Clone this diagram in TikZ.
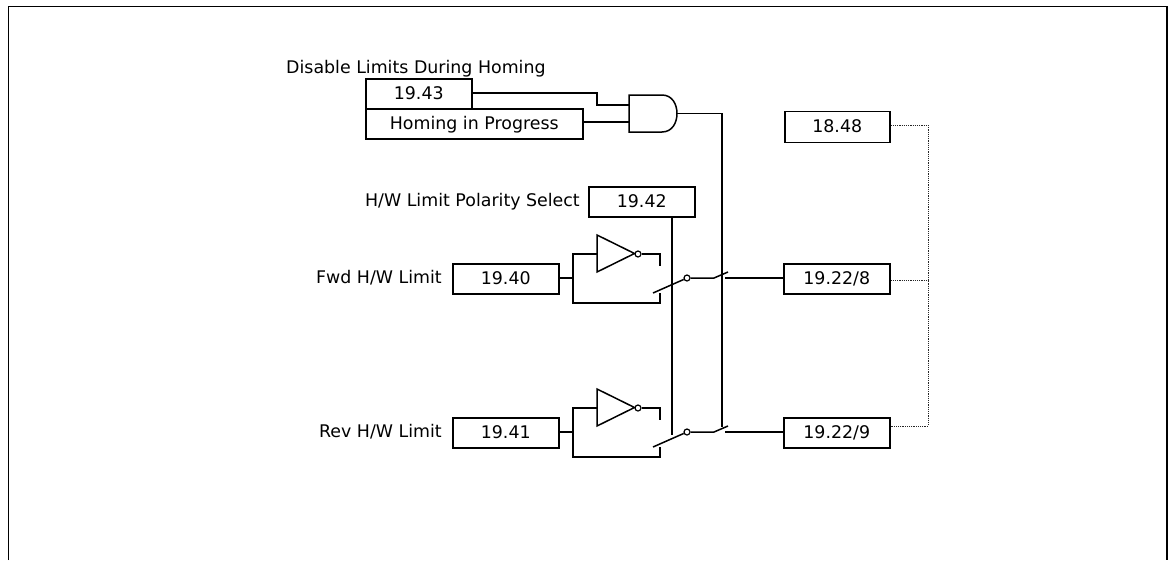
\documentclass[tikz,border=0pt]{standalone}
\usepackage{fontspec}
\setmainfont{DejaVu Sans}
\tikzset{
  wire/.style={draw=black,line width=1.5pt},
  pbox/.style={draw=black,line width=1.5pt,fill=white,minimum height=30pt,inner sep=0pt,text height=13pt,text depth=2pt,anchor=north west,font=\fontsize{17.4}{20}\selectfont},
  lbl/.style={inner sep=0pt,text height=13pt,text depth=2pt,font=\fontsize{17.4}{20}\selectfont},
  dots/.style={draw=black!85,line width=1pt,dash pattern=on 1.2pt off 1pt},
  bubble/.style={circle,draw=black,line width=1.2pt,fill=white,minimum size=6pt,inner sep=0pt},
}
\begin{document}
\begin{tikzpicture}[x=1pt,y=-1pt]
\useasboundingbox (0,0) rectangle (1168,560);
\coordinate (fa) at (8.5,560); \coordinate (fb) at (8.5,6.5); \coordinate (fc) at (1167,6.5); \coordinate (fd) at (1167,560);
\draw[draw=black,line width=1.5pt] (fa) -- (fb) -- (fc) -- (fd);
% labels (below the boxes they touch)
\node[lbl,anchor=west] (l1) at (286,68) {Disable Limits During Homing};
\node[lbl,anchor=east] (l2) at (580,201) {H/W Limit Polarity Select};
\node[lbl,anchor=east] (l3) at (442,278) {Fwd H/W Limit};
\node[lbl,anchor=east] (l4) at (442,432) {Rev H/W Limit};
% boxes
\node[pbox,minimum width=106pt,fill=none] (b1943) at (365,78) {19.43};
\node[pbox,minimum width=217pt] (bhome) at (365,108) {Homing in Progress};
\node[pbox,minimum width=106pt] (b1942) at (588,186) {19.42};
\node[pbox,minimum width=106pt] (b1940) at (452,263) {19.40};
\node[pbox,minimum width=106pt] (b1941) at (452,417) {19.41};
\node[pbox,minimum width=105pt,minimum height=31pt] (b1848) at (784,110.5) {18.48};
\node[pbox,minimum width=106pt] (b8) at (783,263) {19.22/8};
\node[pbox,minimum width=106pt] (b9) at (783,417) {19.22/9};
% AND gate
\draw[wire] (629,95) -- (662,95) .. controls (672,95) and (677,104) .. (677,113.5) .. controls (677,123) and (672,132) .. (662,132) -- (629,132) -- cycle;
\coordinate (andout) at (677,113.5);
\coordinate (andi1) at (629,105); \coordinate (andi2) at (629,122);
\coordinate (k1) at (597,93); \coordinate (k2) at (597,105);
\draw[wire] (b1943.east |- k1) -- (k1) -- (k2) -- (andi1);
\draw[wire] (bhome.east |- andi2) -- (andi2);
\coordinate (busA) at (722,113.5);
\coordinate (busAend) at (722,427);
\draw[wire] (andout) -- (busA) -- (busAend);
% polarity bus
\coordinate (busBend) at (672,435);
\draw[wire] (b1942.south -| busBend) -- (busBend);
% switch groups
\foreach \n/\y/\src/\dst in {a/278/b1940/b8,b/432/b1941/b9}{
  \coordinate (j\n) at (573,\y);
  \draw[wire] (\src.east |- j\n) -- (j\n);
  \draw[wire,line join=miter] (597,\y-43) -- (597,\y-6) -- (634.5,\y-24.5) -- cycle;
  \node[bubble] (inv\n) at (638,\y-24) {};
  \draw[wire] (j\n) -- (573,\y-24) -- (597,\y-24);
  \draw[wire] (inv\n) -- (660,\y-24) -- (660,\y-12);
  \draw[wire] (j\n) -- (573,\y+25) -- (660,\y+25) -- (660,\y+15);
  \node[bubble] (sw\n) at (687,\y) {};
  \draw[wire] (653,\y+15) -- (sw\n);
  \draw[wire] (sw\n) -- (714,\y) -- (728,\y-6);
  \coordinate (o\n) at (725,\y);
  \draw[wire] (o\n) -- (\dst.west |- o\n);
}
% dotted bus
\coordinate (da) at (928,125); \coordinate (db) at (928,280); \coordinate (dc) at (928,426);
\draw[dots] (b1848.east |- da) -- (da) -- (dc) -- (b9.east |- dc);
\draw[dots] (b8.east |- db) -- (db);
\end{tikzpicture}
\end{document}
